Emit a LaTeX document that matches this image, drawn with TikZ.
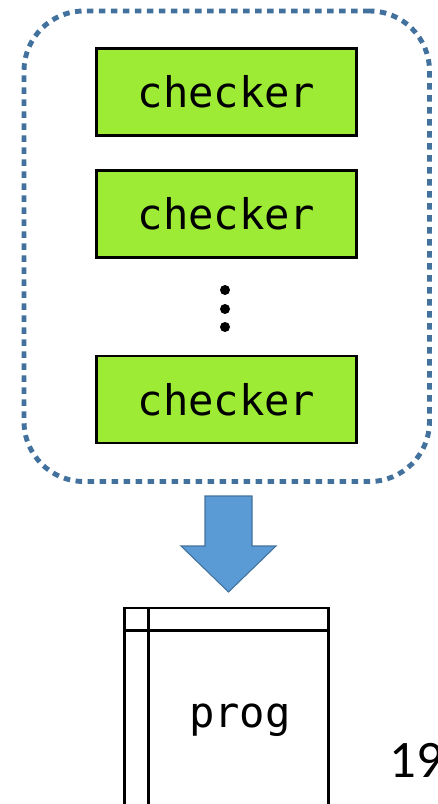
\documentclass[tikz,border=0pt]{standalone}
\usepackage{fontspec}
\setmonofont{DejaVu Sans Mono}
\newfontfamily\numfont{Carlito}
\usepackage{tikz}
\usetikzlibrary{positioning}
\usepackage{xcolor}
\definecolor{frameblue}{RGB}{65,113,156}
\definecolor{arrowblue}{RGB}{91,155,213}
\definecolor{checkgreen}{RGB}{157,235,52}
\tikzset{checkbox/.style={draw=black, line width=1.7pt, fill=checkgreen,
           minimum width=5.2cm, minimum height=1.74cm,
           font=\ttfamily\fontsize{24}{28}\selectfont},
         dotnode/.style={circle, fill=black, inner sep=0pt, minimum size=0.2cm}}

\begin{document}
\begin{tikzpicture}
        \useasboundingbox (0,0) rectangle (8.76,-16.08);
        \clip (0,0) rectangle (8.76,-16.08);

        % Nodes
        \node[draw=frameblue, line width=2.8pt, rounded corners=1.2cm,
              dash pattern=on 0.13cm off 0.11cm,
              minimum width=8.11cm, minimum height=9.41cm] (group) at (4.535,-4.925) {};
        \node[checkbox] (c1) at (4.53,-1.84) {checker};
        \node[checkbox] (c2) at (4.53,-4.28) {checker};
        \node[dotnode] (d1) at (4.50,-5.80) {};
        \node[dotnode] (d2) at (4.50,-6.18) {};
        \node[dotnode] (d3) at (4.50,-6.54) {};
        \node[checkbox] (c3) at (4.53,-7.99) {checker};

        \node[draw, line width=1.7pt, minimum width=4.08cm, minimum height=4.8cm,
              anchor=north] (prog) at (4.53,-12.13) {};
        \draw[line width=1.7pt] (prog.north west) ++(0,-0.47) -- ++(4.08,0);
        \draw[line width=1.7pt] (prog.north west) ++(0.5,0) -- ++(0,-4.8);
        \node[font=\ttfamily\fontsize{24}{28}\selectfont] (progtext) at (4.80,-14.40) {prog};

        \node[font=\numfont\fontsize{30}{34}\selectfont, inner sep=0pt, anchor=west] (page) at (7.78,-15.20) {19};

        % Edges
        \filldraw[fill=arrowblue, draw=frameblue, line width=0.6pt]
            (4.10,-9.92) -- (5.04,-9.92) -- (5.04,-10.92) -- (5.52,-10.92)
            -- (4.57,-11.84) -- (3.62,-10.92) -- (4.10,-10.92) -- cycle;

\end{tikzpicture}
\end{document}
